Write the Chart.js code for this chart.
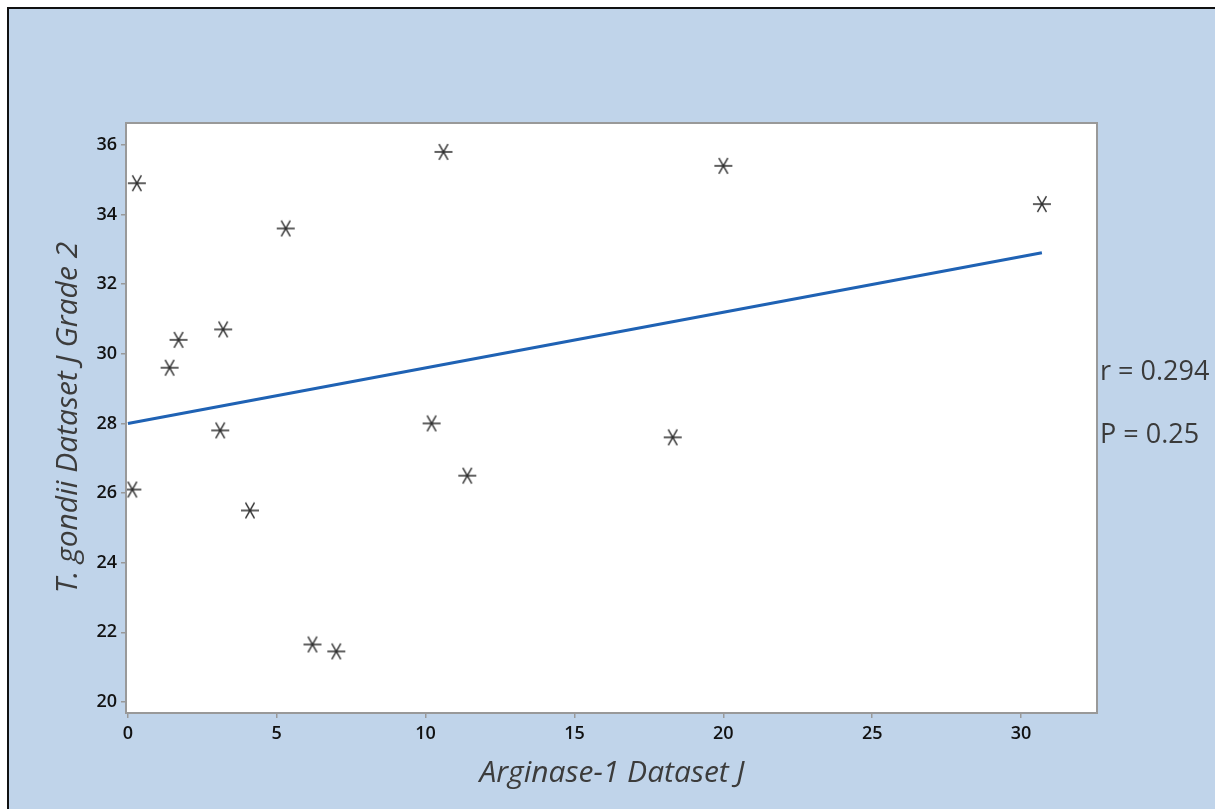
<!DOCTYPE html>
<html>
<head>
<meta charset="utf-8">
<title>Arginase-1 vs T. gondii</title>
<script src="https://cdn.jsdelivr.net/npm/chart.js@4.4.1/dist/chart.umd.min.js"></script>
<style>
  html, body { margin: 0; padding: 0; background: #fff; overflow: hidden; }
  #frame {
    position: absolute; left: 7px; top: 7px;
    width: 1300px; height: 900px;
    background: #c0d4ea;
    border: 2px solid #111;
  }
  #wrap { position: absolute; left: 0; top: 0; width: 1215px; height: 809px; }
</style>
</head>
<body>
<div id="frame"></div>
<div id="wrap"><canvas id="chart" width="1215" height="809"></canvas></div>
<script>
// Arginase-1 (x) and T. gondii grade 2 (y) per sample
const arginase = [0.15, 0.3, 1.4, 1.7, 3.1, 3.2, 4.1, 5.3, 6.2, 7.0, 10.2, 10.6, 11.4, 18.3, 20.0, 30.7];
const gondii   = [26.1, 34.9, 29.6, 30.4, 27.8, 30.7, 25.5, 33.6, 21.65, 21.45, 28.0, 35.8, 26.5, 27.6, 35.4, 34.3];

// fitted line end points
const fitX = [0, 30.7];
const fitY = [28.0, 32.9];

const xTicks = [0, 5, 10, 15, 20, 25, 30];
const yTicks = [20, 22, 24, 26, 28, 30, 32, 34, 36];

const statLines = ['r = 0.294', 'P = 0.25'];

// asterisk marker: one horizontal arm plus two at +/-60 degrees
function makeStar() {
  const c = document.createElement('canvas');
  c.width = 20; c.height = 18;
  const g = c.getContext('2d');
  g.strokeStyle = '#2e2e2e';
  g.lineWidth = 1.4;
  const cx = 10, cy = 9, r = 9;
  g.beginPath();
  for (const a of [0, Math.PI / 3, -Math.PI / 3]) {
    g.moveTo(cx - r * Math.cos(a), cy - r * Math.sin(a));
    g.lineTo(cx + r * Math.cos(a), cy + r * Math.sin(a));
  }
  g.stroke();
  return c;
}

const plotFrame = {
  id: 'plotFrame',
  beforeDraw(chart) {
    const { ctx, chartArea: a } = chart;
    ctx.save();
    ctx.fillStyle = '#fff';
    ctx.fillRect(a.left, a.top, a.right - a.left, a.bottom - a.top);
    ctx.restore();
  },
  afterDraw(chart) {
    const { ctx, chartArea: a } = chart;
    ctx.save();
    ctx.strokeStyle = '#999';
    ctx.lineWidth = 2;
    ctx.strokeRect(a.left - 1, a.top, a.right - a.left + 1, a.bottom - a.top + 1);
    // correlation text beside the plot
    ctx.fillStyle = '#3a3a3a';
    ctx.font = '27px "Open Sans", sans-serif';
    ctx.textBaseline = 'middle';
    ctx.fillText(statLines[0], a.right + 3, 372);
    ctx.fillText(statLines[1], a.right + 3, 435);
    ctx.restore();
  }
};

const tickFont = { family: '"Open Sans", sans-serif', size: 18, weight: '600' };
const titleFont = { family: '"Open Sans", sans-serif', size: 30, style: 'italic' };

new Chart(document.getElementById('chart'), {
  type: 'scatter',
  data: {
    datasets: [
      {
        label: 'samples',
        data: arginase.map((x, i) => ({ x: x, y: gondii[i] })),
        pointStyle: makeStar(),
        pointRadius: 9
      },
      {
        type: 'line',
        label: 'fit',
        data: fitX.map((x, i) => ({ x: x, y: fitY[i] })),
        borderColor: '#1f62b4',
        borderWidth: 3,
        pointRadius: 0,
        fill: false
      }
    ]
  },
  options: {
    responsive: false,
    animation: false,
    layout: { padding: { left: 0, top: 123, right: 118, bottom: 0 } },
    plugins: { legend: { display: false }, tooltip: { enabled: false } },
    scales: {
      x: {
        type: 'linear',
        min: -0.03,
        max: 32.55,
        afterBuildTicks: s => { s.ticks = xTicks.map(v => ({ value: v })); },
        afterFit: s => { s.height = 97; },
        grid: { drawOnChartArea: false, color: '#999', tickLength: 6, lineWidth: 1.5 },
        border: { display: false },
        ticks: { color: '#111', font: tickFont, padding: 5, maxRotation: 0 },
        title: {
          display: true, text: 'Arginase-1 Dataset J', color: '#3c3c3c',
          font: titleFont, padding: { top: 0, bottom: 18 }
        }
      },
      y: {
        type: 'linear',
        min: 19.71,
        max: 36.63,
        afterBuildTicks: s => { s.ticks = yTicks.map(v => ({ value: v })); },
        afterFit: s => { s.width = 127; },
        grid: { drawOnChartArea: false, color: '#999', tickLength: 6, lineWidth: 1.5 },
        border: { display: false },
        ticks: { color: '#111', font: tickFont, padding: 4 },
        title: {
          display: true, text: 'T. gondii Dataset J Grade 2', color: '#3c3c3c',
          font: titleFont, padding: { top: 50, bottom: 0 }
        }
      }
    }
  },
  plugins: [plotFrame]
});
</script>
</body>
</html>
